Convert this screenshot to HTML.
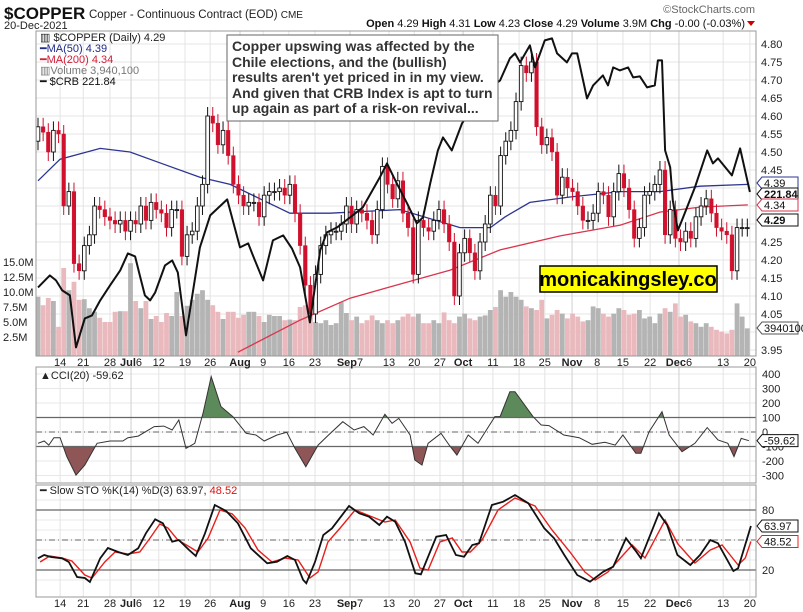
<!DOCTYPE html>
<html><head><meta charset="utf-8"><style>
body{margin:0;background:#fff;}
svg{display:block;font-family:"Liberation Sans",sans-serif;}
</style></head><body>
<svg id="chart" width="803" height="612" viewBox="0 0 803 612" xmlns="http://www.w3.org/2000/svg">
<rect x="0" y="0" width="803" height="612" fill="#fff"/>
<text x="4" y="19" font-size="17" font-weight="bold" fill="#111">$COPPER</text>
<text x="89" y="18" font-size="11.5" fill="#222">Copper - Continuous Contract (EOD) <tspan font-size="10">CME</tspan></text>
<text x="4" y="29" font-size="11" fill="#222">20-Dec-2021</text>
<text x="755" y="13" font-size="11" fill="#666" text-anchor="end">©StockCharts.com</text>
<text x="745" y="27" font-size="11" fill="#111" text-anchor="end"><tspan font-weight="bold">Open</tspan> 4.29 <tspan font-weight="bold">High</tspan> 4.31 <tspan font-weight="bold">Low</tspan> 4.23 <tspan font-weight="bold">Close</tspan> 4.29 <tspan font-weight="bold">Volume</tspan> 3.9M <tspan font-weight="bold">Chg</tspan> -0.00 (-0.03%)</text>
<polygon points="747,21 755,21 751,26" fill="#c00"/>
<defs>
<clipPath id="mainClip"><rect x="36" y="31" width="720" height="325"/></clipPath>
<clipPath id="cciClip"><rect x="36" y="367" width="720" height="116"/></clipPath>
<clipPath id="stoClip"><rect x="36" y="485" width="720" height="112"/></clipPath>
</defs>
<g id="grid"></g>
<g id="vol" clip-path="url(#mainClip)"></g>
<g id="mas" clip-path="url(#mainClip)"></g>
<g id="candles" clip-path="url(#mainClip)"></g>
<g id="crb" clip-path="url(#mainClip)"></g>
<g id="cci" clip-path="url(#cciClip)"></g>
<g id="sto" clip-path="url(#stoClip)"></g>
<g id="frames"></g>
<g id="labels"></g>
<g font-size="11">
<text x="40" y="41" fill="#222">▥ $COPPER (Daily) 4.29</text>
<text x="40" y="52" fill="#1f2a8c">━MA(50) 4.39</text>
<text x="40" y="63" fill="#d0203a">━MA(200) 4.34</text>
<text x="40" y="74" fill="#777">▥Volume 3,940,100</text>
<text x="40" y="85" fill="#111">━ $CRB 221.84</text>
</g>
<g>
<rect x="227" y="35" width="271" height="86" fill="#fff" stroke="#666" stroke-width="1"/>
<text x="232" y="51" font-size="14" font-weight="bold" fill="#333">Copper upswing was affected by the</text>
<text x="232" y="67" font-size="14" font-weight="bold" fill="#333">Chile elections, and the (bullish)</text>
<text x="232" y="82" font-size="14" font-weight="bold" fill="#333">results aren't  yet priced in in my view.</text>
<text x="232" y="98" font-size="14" font-weight="bold" fill="#333">And given that CRB Index is apt to turn</text>
<text x="232" y="113" font-size="14" font-weight="bold" fill="#333">up again as part of a risk-on revival...</text>
</g>
<g>
<rect x="540" y="266" width="177" height="26" fill="#ffff00" stroke="#000" stroke-width="1.5"/>
<text x="628" y="286" font-size="20" font-weight="bold" fill="#000" text-anchor="middle">monicakingsley.co</text>
</g>
<text x="40" y="379" font-size="11" fill="#222">▲CCI(20) -59.62</text>
<text x="40" y="494" font-size="11" fill="#222">━ Slow STO %K(14) %D(3) 63.97, <tspan fill="#e01010">48.52</tspan></text>
<script>
const closes=[4.57,4.555,4.50,4.56,4.55,4.35,4.39,4.19,4.17,4.24,4.27,4.35,4.34,4.32,4.31,4.30,4.31,4.28,4.31,4.30,4.35,4.31,4.36,4.34,4.33,4.29,4.34,4.34,4.21,4.27,4.28,4.35,4.41,4.60,4.58,4.52,4.56,4.49,4.41,4.38,4.35,4.36,4.36,4.32,4.38,
4.39,4.39,4.40,4.38,4.41,4.33,4.24,4.13,4.05,4.16,4.24,4.27,4.28,4.28,4.30,4.35,4.30,4.34,4.33,4.31,4.27,4.34,4.46,4.41,4.37,4.42,4.33,4.29,4.16,4.31,4.29,4.28,4.31,4.34,4.30,4.25,4.10,4.22,4.26,4.22,4.17,4.25,4.30,4.38,4.35,4.49,4.53,
4.56,4.64,4.74,4.72,4.75,4.57,4.52,4.54,4.50,4.38,4.43,4.40,4.39,4.35,4.31,4.31,4.33,4.39,4.38,4.32,4.39,4.44,4.40,4.34,4.26,4.29,4.38,4.39,4.41,4.45,4.27,4.34,4.26,4.25,4.28,4.26,4.32,4.35,4.37,4.33,4.29,4.28,4.27,4.17,4.29,4.29,4.29];
const firstOpen=4.53;
const volumes=[9.2,7.8,9,8.5,4.2,14,10.3,11.7,8.7,8.8,7.3,6.7,5.7,5,5,6.7,6.8,6.8,14.8,8.5,7.3,8.5,5.5,6,5,6.5,6,10,6,7.7,8.7,9.7,10.3,8.7,7.8,6.7,5.5,6.7,6.7,5.7,6.2,6.7,6.7,6,5,
6.2,6,6,5.3,5.4,5.3,7.5,7.8,6.2,5,4.8,5.3,4.5,4.8,8.3,6.5,5.3,5.9,4.8,5.3,6.1,5.3,4.8,5.3,4.8,5.3,5.9,6.4,5.9,6.4,4.8,4.8,5.3,4.8,6.6,5.3,4.8,5.9,6.4,5.6,5.3,5.9,6.1,7,7.5,10.3,9.2,
10,9.2,8.7,7.6,7.3,7,8.7,5.6,6.2,7,6.4,5.6,6.4,5.9,5.1,5.3,7.6,7.3,6.4,5.9,6.4,7.3,7,6.2,6.4,7,5.6,5.9,4.8,6.4,7.3,6.7,8.1,5.9,6.2,5.1,4.8,4.2,4.8,4.2,3.7,3.4,3.1,3.7,8.1,5.9,3.94];
const ma50Days=[0,4.3,12.1,17.9,23.7,31.5,37.4,43.2,49.0,56.8,70.4,82.1,88.0,90.9,95.7,103.5,113.3,121.0,128.8,138.1];
const ma50Vals=[4.42,4.48,4.51,4.50,4.47,4.43,4.41,4.37,4.33,4.33,4.34,4.29,4.29,4.32,4.36,4.375,4.39,4.39,4.405,4.41];
const ma200Days=[38.9,51.0,60.7,70.4,80.2,89.9,101.6,113.3,121.0,128.8,138.1];
const ma200Vals=[3.944,4.033,4.094,4.133,4.172,4.228,4.267,4.297,4.333,4.347,4.353];
const crbDays=[0,2.3,3.5,4.7,6.2,7.4,9.1,10.5,12.1,14.0,16.0,17.5,18.9,19.8,20.8,21.8,22.8,24.7,26.1,27.2,28.8,31.5,33.5,36.8,39.3,40.9,41.8,43.8,45.7,47.7,49.4,51.0,52.9,54.9,56.2,58.2,60.7,63.2,66.5,67.9,69.8,71.8,73.7,74.9,76.3,77.8,78.8,80.5,82.5,86.0,89.9,91.8,92.8,93.8,95.7,96.7,98.6,100.0,101.0,102.9,103.9,104.9,106.8,108.0,109.9,110.9,111.9,113.2,114.8,115.8,117.1,118.5,120.0,120.6,121.4,122.0,123.0,123.5,124.5,125.5,127.8,130.2,131.3,132.3,135.0,136.6,138.5];
const crbVals=[212.3,213.5,213.0,212.0,211.5,206.3,209.2,209.5,211.0,212.5,214.0,215.7,215.4,213.5,211.5,211.0,211.8,214.5,215.0,213.8,207.5,216.3,219.5,221.1,216.3,216.7,215.5,213.0,217.0,217.5,216.2,214.3,208.8,216.0,217.8,218.3,219.3,220.3,223.3,224.7,222.7,220.7,218.7,219.3,222.7,226.0,227.3,226.0,228.7,231.5,233.0,235.2,235.7,234.8,236.5,234.3,237.0,237.2,235.7,234.8,235.7,235.7,231.2,232.5,233.5,232.5,234.3,234.0,234.3,233.3,233.4,232.3,232.5,235.0,235.0,226.0,224.3,221.0,218.0,219.3,222.3,226.0,224.7,225.2,223.5,226.2,221.84];
const cciDays=[0,1.2,2.1,3.1,4.3,5.6,7.4,9.1,11.5,14.0,16.5,17.5,19.5,22.6,24.5,26.1,27.4,28.8,30.5,32.1,33.7,35.6,37.9,40.5,42.4,44.0,46.5,48.4,50.0,52.1,54.5,56.4,59.3,61.5,63.4,65.2,67.5,68.9,70.2,72.4,73.3,74.7,75.9,78.4,80.0,81.5,83.7,85.6,88.9,89.9,91.8,92.8,96.3,97.9,99.4,102.3,105.3,107.8,110.3,112.3,113.8,116.3,117.3,118.9,121.4,122.8,125.3,127.8,130.2,132.3,134.2,135.4,136.8,138.3];
const cciVals=[-78,-62,-90,-39,-39,-170,-297,-228,-78,-62,-62,-39,-28,37,41,14,83,-113,-78,129,382,175,106,-9,-21,-62,-21,-2,-113,-239,-90,-25,71,14,37,-21,122,60,94,-21,-193,-228,-78,-9,-90,-159,-21,-78,106,106,278,278,106,48,44,-21,-39,-85,-71,-90,-21,-147,-147,2,140,-21,-136,-78,30,-55,-78,-170,-44,-60];
const kDays=[0,1.2,2.5,4.7,6.0,7.6,9.1,10.1,12.1,13.6,15.6,17.5,19.5,21.0,22.8,24.3,26.1,27.4,29.4,30.7,32.5,34.4,36.6,38.9,41.4,44.6,46.5,48.5,50.0,51.6,52.2,53.9,55.5,57.2,60.5,62.5,64.4,66.4,67.9,69.5,71.4,73.4,74.5,77.5,79.4,81.3,82.9,84.5,85.8,88.3,90.5,92.8,95.4,98.5,100.4,102.4,104.9,107.4,110.0,111.9,114.4,116.4,117.3,120.8,122.4,124.4,126.9,128.8,130.8,132.3,135.3,136.2,138.7];
const kVals=[31.7,35,33,31.7,28,13,12,8,31.7,42,38,35,41.7,56.7,70.7,66.7,48.3,50,40,34,56.7,85,79,66.7,41.7,26.7,28.3,34,30,10,6.7,28,55,61.7,84,76.7,73.3,65,73.3,68.3,48.3,16.7,15.7,53.3,55,35,33.3,45,46.7,85,88.3,95,86.7,61.7,51.7,35,15,8.3,18.3,23.3,51.7,38.3,31.7,76.7,65,35,25,35,50,46.7,19,21.7,63.97];
const dDays=[0.4,2.3,4.7,6.6,9.1,10.5,13.0,15.0,17.5,19.8,21.8,23.7,25.3,27.2,29.2,31.1,33.1,35.4,37.8,40.3,42.8,45.5,48.1,50.6,52.9,54.5,56.4,58.8,61.7,64.6,67.5,69.5,72.4,74.3,75.9,78.2,80.6,82.5,84.1,86.4,89.5,92.8,96.7,100.0,103.5,106.4,108.4,110.9,113.3,115.6,118.1,122.0,124.5,127.8,130.8,133.1,136.2,137.6,138.7];
const dVals=[28,34,32,29,15,12,28,38,36,38,52,66,62,50,44,38,52,80,76,62,40,28,32,30,12,18,48,62,80,74,68,70,48,22,20,48,52,38,38,50,80,92,84,60,38,18,10,18,32,45,32,70,46,27,40,45,25,32,48.52];
const priceTicks=[4.80,4.75,4.70,4.65,4.60,4.55,4.50,4.45,4.40,4.35,4.30,4.25,4.20,4.15,4.10,4.05,4.00,3.95];
const priceTickLabels=["4.80","4.75","4.70","4.65","4.60","4.55","4.50","4.45","","","","4.25","4.20","4.15","4.10","4.05","","3.95"];
const volTicks=[2.5,5,7.5,10,12.5,15];
const volTickLabels=["2.5M","5.0M","7.5M","10.0M","12.5M","15.0M"];
const cciTicks=[400,300,200,100,0,-100,-200,-300];
const stoTicks=[80,20];
const dateDays=[4.3,8.8,14.0,18.1,23.5,28.6,33.5,39.3,43.8,48.8,53.9,60.7,68.3,73.2,78.2,82.7,88.5,93.6,98.6,103.9,108.8,113.8,119.1,124.7,133.3,138.5];
const dateLabels=["14","21","28","Jul6","12","19","26","Aug","9","16","23","Sep7","13","20","27","Oct","11","18","25","Nov","8","15","22","Dec6","13","20"];

const NS="http://www.w3.org/2000/svg";
const xD=i=>38+i*5.14;
const yP=p=>350-(p-3.95)*360;
const yC=v=>192-(v-221.84)*10;
const yV=m=>352-m*6;
const yCCI=v=>432-v*0.145;
const yS=v=>590-v;
function mk(tag,attrs,parent){const e=document.createElementNS(NS,tag);for(const k in attrs)e.setAttribute(k,attrs[k]);parent.appendChild(e);return e;}
const G=id=>document.getElementById(id);
const grid=G('grid'),labels=G('labels'),frames=G('frames');

priceTicks.forEach(p=>{mk('line',{x1:36,x2:756,y1:yP(p),y2:yP(p),stroke:'#e4e4e4','stroke-width':1},grid);});
[-300,-200,-100,0,100,200,300,400].forEach(v=>{mk('line',{x1:36,x2:756,y1:yCCI(v),y2:yCCI(v),stroke:'#e8e8e8'},grid);});
[10,20,30,40,50,60,70,80,90].forEach(v=>{mk('line',{x1:36,x2:756,y1:yS(v),y2:yS(v),stroke:'#e8e8e8'},grid);});
dateDays.forEach((d,i)=>{
  const x=xD(d);const bold=/[A-Za-z]/.test(dateLabels[i]);
  [[31,356],[367,483],[485,597]].forEach(r=>mk('line',{x1:x,x2:x,y1:r[0],y2:r[1],stroke:bold?'#cfcfcf':'#e4e4e4'},grid));
  [366,607].forEach(yy=>{
    const t=mk('text',{x:x,y:yy,'font-size':11,'text-anchor':'middle',fill:'#222'},labels);
    const m=dateLabels[i].match(/^([A-Za-z]+)(\d*)$/);
    if(m){const a=mk('tspan',{'font-weight':'bold'},t);a.textContent=m[1];if(m[2]){const b=mk('tspan',{},t);b.textContent=m[2];}}
    else t.textContent=dateLabels[i];
    
    
  });
});

const vg=G('vol');
volumes.forEach((v,i)=>{
  const o=i===0?firstOpen:closes[i-1];const up=closes[i]>=o;
  const r=mk('rect',{x:xD(i)-2.4,y:yV(v),width:4.8,height:352-yV(v)+4,fill:up?'#b4b4b4':'#e9b9bd'},vg);
  
  
});

function line(days,vals,fx,fy,parent,attrs,name){
  const pts=days.map((d,i)=>fx(d).toFixed(1)+','+fy(vals[i]).toFixed(1)).join(' ');
  const p=mk('polyline',Object.assign({points:pts,fill:'none'},attrs),parent);
  
  
  return p;
}
line(ma200Days,ma200Vals,xD,yP,G('mas'),{stroke:'#d9364e','stroke-width':1.3},'ma200-line');
line(ma50Days,ma50Vals,xD,yP,G('mas'),{stroke:'#2c3590','stroke-width':1.3},'ma50-line');

const cg=G('candles');const wick=0.025;
closes.forEach((c,i)=>{
  const o=i===0?firstOpen:closes[i-1];const up=c>=o;
  const hi=Math.max(o,c)+wick,lo=Math.min(o,c)-wick;const x=xD(i);
  const col=up?'#111':'#d0102c';
  const w=mk('line',{x1:x,x2:x,y1:yP(hi),y2:yP(lo),stroke:col,'stroke-width':1},cg);
  
  
  const top=yP(Math.max(o,c)),bot=yP(Math.min(o,c));
  const b=mk('rect',{x:x-1.8,y:top,width:3.6,height:Math.max(1,bot-top),fill:up?'#fff':'#d0102c',stroke:col,'stroke-width':up?0.9:0.5},cg);
  
  
});

line(crbDays,crbVals,xD,yC,G('crb'),{stroke:'#111','stroke-width':2,'stroke-linejoin':'round'},'crb-line');

const cg2=G('cci');
const cpts=cciDays.map((d,i)=>[xD(d),yCCI(cciVals[i])]);
const poly=base=>[[cpts[0][0],base],...cpts,[cpts[cpts.length-1][0],base]].map(p=>p[0].toFixed(1)+','+p[1].toFixed(1)).join(' ');
const defs=document.querySelector('defs');
mk('rect',{x:36,y:360,width:720,height:yCCI(100)-360},mk('clipPath',{id:'cciUp'},defs));
mk('rect',{x:36,y:yCCI(-100),width:720,height:490-yCCI(-100)},mk('clipPath',{id:'cciDn'},defs));
const fu=mk('polygon',{points:poly(yCCI(100)),fill:'#5d8a5a','clip-path':'url(#cciUp)'},cg2);


const fd=mk('polygon',{points:poly(yCCI(-100)),fill:'#8e5656','clip-path':'url(#cciDn)'},cg2);


[100,-100].forEach(v=>mk('line',{x1:36,x2:756,y1:yCCI(v),y2:yCCI(v),stroke:'#666','stroke-width':1.2},cg2));
mk('line',{x1:36,x2:756,y1:yCCI(0),y2:yCCI(0),stroke:'#666','stroke-dasharray':'6,3,1,3'},cg2);
line(cciDays,cciVals,xD,yCCI,cg2,{stroke:'#333','stroke-width':1},'cci-line');

const sg=G('sto');
stoTicks.forEach(v=>mk('line',{x1:36,x2:756,y1:yS(v),y2:yS(v),stroke:'#666','stroke-width':1.2},sg));
mk('line',{x1:36,x2:756,y1:yS(50),y2:yS(50),stroke:'#666','stroke-dasharray':'6,3,1,3'},sg);
line(dDays,dVals,xD,yS,sg,{stroke:'#e8201c','stroke-width':1.4},'sto-d-line');
line(kDays,kVals,xD,yS,sg,{stroke:'#111','stroke-width':1.8},'sto-k-line');

[[36,31,720,325],[36,367,720,116],[36,485,720,112]].forEach(r=>{
  const f=mk('rect',{x:r[0],y:r[1],width:r[2],height:r[3],fill:'none',stroke:'#999'},frames);
  
  
});

priceTicks.forEach((p,i)=>{if(!priceTickLabels[i])return;const t=mk('text',{x:761,y:yP(p)+4,'font-size':11,fill:'#222'},labels);t.textContent=priceTickLabels[i];
  
  });
volTicks.forEach((v,i)=>{const t=mk('text',{x:3,y:yV(v)+4,'font-size':11,fill:'#222'},labels);t.textContent=volTickLabels[i];
  
  });
cciTicks.forEach(v=>{const t=mk('text',{x:762,y:yCCI(v)+4,'font-size':11,fill:'#222'},labels);t.textContent=String(v);
  
  });
stoTicks.forEach(v=>{const t=mk('text',{x:762,y:yS(v)+4,'font-size':11,fill:'#222'},labels);t.textContent=String(v);
  
  });
function tag(y,txt,col,bold,name){
  const g=mk('g',{},labels);
  mk('polygon',{points:`757,${y} 762,${y-6} 798,${y-6} 798,${y+6} 762,${y+6}`,fill:'#fff',stroke:col},g);
  const t=mk('text',{x:764,y:y+4,'font-size':11,fill:'#111','font-weight':bold?'bold':'normal'},g);t.textContent=txt;
  
  
}
tag(183,'4.39','#2c3590',false,'ma50-value-tag');
tag(194,'221.84','#111',true,'crb-value-tag');
tag(205,'4.34','#d9364e',false,'ma200-value-tag');
tag(220,'4.29','#111',true,'price-value-tag');
tag(328,'3940100','#555',false,'volume-value-tag');
tag(yCCI(-59.62),'-59.62','#111',false,'cci-value-tag');
tag(yS(63.97),'63.97','#111',false,'sto-k-value-tag');
tag(yS(48.52),'48.52','#e8201c',false,'sto-d-value-tag');
</script>
</svg>
</body></html>
